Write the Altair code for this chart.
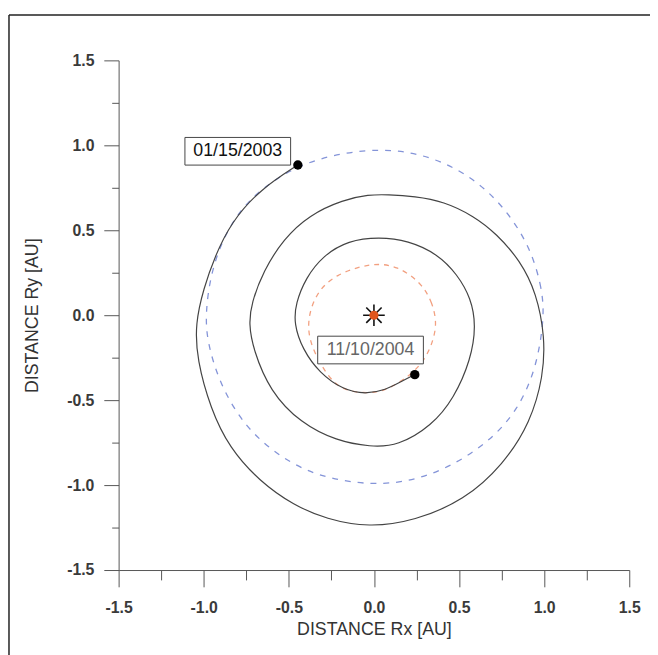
import altair as alt
import pandas as pd

# ---- data (AU) ----
spiral_x = [-0.447, -0.67, -0.84, -0.935, -1.00, -1.05, -1.04, -0.96, -0.85, -0.67, -0.47, -0.28,
            -0.03, 0.24, 0.53, 0.76, 0.92, 0.995, 1.005, 0.955, 0.86, 0.72, 0.585, 0.41, 0.24,
            0.08, -0.03, -0.18, -0.38, -0.53, -0.65, -0.72, -0.735, -0.71, -0.61, -0.43, -0.22,
            -0.02, 0.14, 0.34, 0.47, 0.57, 0.60, 0.57, 0.49, 0.375, 0.20, 0.03, -0.15, -0.30,
            -0.40, -0.46, -0.47, -0.42, -0.32, -0.18, -0.05, 0.07, 0.16, 0.24]
spiral_y = [0.884, 0.74, 0.545, 0.345, 0.16, -0.05, -0.26, -0.55, -0.78, -0.98, -1.12, -1.20,
            -1.25, -1.21, -1.09, -0.88, -0.63, -0.36, -0.13, 0.13, 0.32, 0.48, 0.585, 0.67, 0.70,
            0.71, 0.71, 0.68, 0.59, 0.45, 0.26, 0.07, -0.05, -0.20, -0.45, -0.635, -0.74,
            -0.775, -0.77, -0.65, -0.49, -0.26, -0.06, 0.10, 0.24, 0.36, 0.44, 0.46, 0.44, 0.35,
            0.22, 0.07, -0.05, -0.20, -0.34, -0.44, -0.465, -0.44, -0.39, -0.35]

earth_x = [1.0, 0.99, 0.92, 0.765, 0.575, 0.34, 0.05, -0.34, -0.59, -0.765, -0.885, -0.96, -0.99,
           -0.98, -0.90, -0.755, -0.56, -0.335, -0.01, 0.26, 0.49, 0.685, 0.845, 0.955]
earth_y = [-0.02, 0.15, 0.40, 0.64, 0.815, 0.935, 0.99, 0.93, 0.80, 0.65, 0.46, 0.24, 0.01,
           -0.16, -0.42, -0.66, -0.83, -0.95, -1.005, -0.97, -0.87, -0.735, -0.56, -0.31]

merc_x = [0.37, 0.345, 0.28, 0.14, -0.01, -0.23, -0.34, -0.39, -0.38, -0.32, -0.24, -0.15,
          -0.02, 0.08, 0.22, 0.30, 0.345]
merc_y = [-0.05, 0.07, 0.19, 0.29, 0.31, 0.24, 0.13, -0.02, -0.15, -0.28, -0.40, -0.45,
          -0.46, -0.44, -0.35, -0.26, -0.16]

event_x = [-0.447, 0.24]
event_y = [0.884, -0.35]

label_text = ["01/15/2003", "11/10/2004"]
label_x = [-0.80, -0.02]
label_y = [0.965, -0.205]
label_color = ["#111111", "#666666"]

sun_x = [0.0]
sun_y = [0.0]

tick_values = [-1.5, -1.25, -1.0, -0.75, -0.5, -0.25, 0.0, 0.25, 0.5, 0.75, 1.0, 1.25, 1.5]

# ---- tables ----
spiral = pd.DataFrame({"x": spiral_x, "y": spiral_y, "i": range(len(spiral_x))})
earth = pd.DataFrame({"x": earth_x, "y": earth_y, "i": range(len(earth_x))})
merc = pd.DataFrame({"x": merc_x, "y": merc_y, "i": range(len(merc_x))})
events = pd.DataFrame({"x": event_x, "y": event_y})
labels = pd.DataFrame({"x": label_x, "y": label_y, "t": label_text, "c": label_color})
sun = pd.DataFrame({"x": sun_x, "y": sun_y})

FONT = "Liberation Sans, Arial, sans-serif"
major_test = "abs(datum.value*2 - round(datum.value*2)) < 0.01"
lab_expr = ("abs(datum.value*2 - round(datum.value*2)) < 0.01 ? "
            "((datum.value < 0 ? '-' : '') + format(abs(datum.value), '.1f')) : ''")

xscale = alt.Scale(domain=[-1.5, 1.5], nice=False, zero=False)
yscale = alt.Scale(domain=[-1.5, 1.5], nice=False, zero=False)

xaxis = alt.Axis(values=tick_values, labelExpr=lab_expr, grid=False,
                 tickSize={"condition": {"test": major_test, "value": 17}, "value": 10},
                 tickColor="#555555", domainColor="#555555", tickWidth=1, domainWidth=1,
                 labelFont=FONT, labelFontSize=16, labelFontWeight="bold",
                 labelColor="#3a3a3a", labelPadding=13,
                 labelFlush=False, title="DISTANCE Rx [AU]", titleFont=FONT,
                 titleFontSize=18, titleFontWeight="normal", titleColor="#333333",
                 titlePadding=5)
yaxis = alt.Axis(values=tick_values, labelExpr=lab_expr, grid=False,
                 tickSize={"condition": {"test": major_test, "value": 15}, "value": 7},
                 tickColor="#555555", domainColor="#555555", tickWidth=1, domainWidth=1,
                 labelFont=FONT, labelFontSize=16, labelFontWeight="bold",
                 labelColor="#3a3a3a", labelPadding=10,
                 labelFlush=False, title="DISTANCE Ry [AU]", titleFont=FONT,
                 titleFontSize=18, titleFontWeight="normal", titleColor="#333333",
                 titlePadding=26)

X = alt.X("x:Q", scale=xscale, axis=xaxis)
Y = alt.Y("y:Q", scale=yscale, axis=yaxis)

earth_line = alt.Chart(earth).mark_line(
    color="#8494d8", strokeWidth=1.3, strokeDash=[6, 7], interpolate="basis-closed"
).encode(x=X, y=Y, order="i:Q")

merc_line = alt.Chart(merc).mark_line(
    color="#f2a080", strokeWidth=1.3, strokeDash=[5, 5], interpolate="basis-closed"
).encode(x=X, y=Y, order="i:Q")

spiral_line = alt.Chart(spiral).mark_line(
    color="#444444", strokeWidth=1.2, interpolate="basis"
).encode(x=X, y=Y, order="i:Q")

dots = alt.Chart(events).mark_circle(color="#000000", size=90, opacity=1).encode(x=X, y=Y)

star = alt.Chart(sun).mark_point(
    shape="M0,-1L0,1M-1,0L1,0M-0.71,-0.71L0.71,0.71M-0.71,0.71L0.71,-0.71",
    size=480, stroke="#111111", strokeWidth=1.6, filled=False, opacity=1
).encode(x=X, y=Y)
sun_dot = alt.Chart(sun).mark_circle(color="#e0561c", size=85, opacity=1).encode(x=X, y=Y)

boxes = alt.Chart(labels).mark_rect(
    width=107, height=28, fill="white", stroke="#444444", strokeWidth=1
).encode(x=X, y=Y)
texts = alt.Chart(labels).mark_text(
    font=FONT, fontSize=18, align="center", baseline="middle"
).encode(x=X, y=Y, text="t:N", color=alt.Color("c:N", scale=None))

frame_left = alt.Chart(sun).mark_rule(color="#222222", strokeWidth=1.5).encode(
    x=alt.value(-111), y=alt.value(-46), y2=alt.value(700))
frame_top = alt.Chart(sun).mark_rule(color="#222222", strokeWidth=1.5).encode(
    x=alt.value(-111), x2=alt.value(700), y=alt.value(-46))

chart = alt.layer(
    earth_line, merc_line, spiral_line, dots, star, sun_dot, boxes, texts, frame_left, frame_top
).properties(
    width=517, height=516,
    background="white",
    autosize=alt.AutoSizeParams(type="none"),
    padding={"left": 112, "top": 49, "right": 21, "bottom": 82},
).configure_view(stroke=None, strokeWidth=0)

chart.save("out.html", embed_options={"renderer": "svg", "actions": False})
